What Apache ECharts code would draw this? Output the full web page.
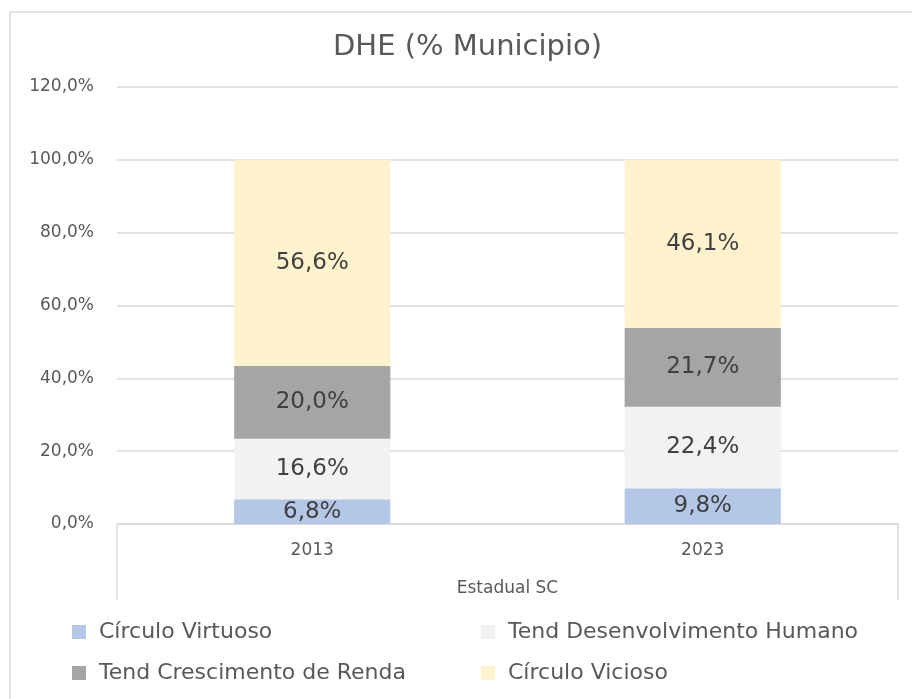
<!DOCTYPE html>
<html>
<head>
<meta charset="utf-8">
<script src="https://cdn.jsdelivr.net/npm/echarts@6/dist/echarts.min.js"></script>
<style>
  html, body { margin: 0; padding: 0; background: #fff; }
  #chart { width: 912px; height: 699px; }
</style>
</head>
<body>
<div id="chart"></div>
<script>
const years = ['2013', '2023']
const groupLabel = ['Estadual SC']
const seriesNames = ['Círculo Virtuoso', 'Tend Desenvolvimento Humano', 'Tend Crescimento de Renda', 'Círculo Vicioso']
const virtuoso = [6.8, 9.8]
const desenvolvimento = [16.6, 22.4]
const crescimento = [20.0, 21.7]
const vicioso = [56.6, 46.1]
const colors = ['#B4C7E7', '#F2F2F2', '#A5A5A5', '#FFF2CC']

const fmt = (v) => v.toFixed(1).replace('.', ',') + '%'
const font = 'DejaVu Sans'

const chart = echarts.init(document.getElementById('chart'))

function barSeries(name, data, color) {
  return {
    name,
    type: 'bar',
    stack: 'total',
    barWidth: '40%',
    data,
    itemStyle: { color },
    label: {
      show: true,
      position: 'inside',
      formatter: (p) => fmt(p.value),
      color: '#404040',
      fontFamily: font,
      fontSize: 23
    }
  }
}

const legendStyle = {
  orient: 'vertical',
  top: 621,
  padding: 0,
  itemGap: 19,
  icon: 'rect',
  itemWidth: 14,
  itemHeight: 14,
  textStyle: { color: '#595959', fontFamily: font, fontSize: 22, padding: [0, 0, 0, 8] }
}

chart.setOption({
  animation: false,
  backgroundColor: '#fff',
  graphic: [{
    type: 'rect',
    shape: { x: 10, y: 12, width: 940, height: 720 },
    style: { fill: 'none', stroke: '#D9D9D9', lineWidth: 1.5 }
  }],
  title: {
    text: 'DHE (% Municipio)',
    left: 333,
    top: 33,
    padding: 0,
    textStyle: { color: '#595959', fontFamily: font, fontSize: 29, fontWeight: 'normal' }
  },
  grid: { left: 117, right: 14, top: 87, bottom: 175, containLabel: false },
  legend: [
    Object.assign({ data: [seriesNames[0], seriesNames[2]], left: 72 }, legendStyle),
    Object.assign({ data: [seriesNames[1], seriesNames[3]], left: 481 }, legendStyle)
  ],
  xAxis: [
    {
      type: 'category',
      data: years,
      axisLine: { show: true, lineStyle: { color: '#D9D9D9', width: 1.5 } },
      axisTick: { show: false },
      axisLabel: { color: '#595959', fontFamily: font, fontSize: 17, margin: 18 }
    },
    {
      type: 'category',
      data: groupLabel,
      position: 'bottom',
      axisLine: { show: false },
      axisTick: { show: true, length: 76, lineStyle: { color: '#D9D9D9', width: 1.5 } },
      axisLabel: { color: '#595959', fontFamily: font, fontSize: 17, margin: 56 }
    }
  ],
  yAxis: {
    type: 'value',
    min: 0,
    max: 120,
    interval: 20,
    axisLine: { show: false },
    axisTick: { show: false },
    splitLine: { lineStyle: { color: '#D9D9D9', width: 1.5 } },
    axisLabel: {
      color: '#595959',
      fontFamily: font,
      fontSize: 17,
      margin: 23,
      formatter: (v) => fmt(v)
    }
  },
  series: [
    barSeries(seriesNames[0], virtuoso, colors[0]),
    barSeries(seriesNames[1], desenvolvimento, colors[1]),
    barSeries(seriesNames[2], crescimento, colors[2]),
    barSeries(seriesNames[3], vicioso, colors[3])
  ]
})
</script>
</body>
</html>
